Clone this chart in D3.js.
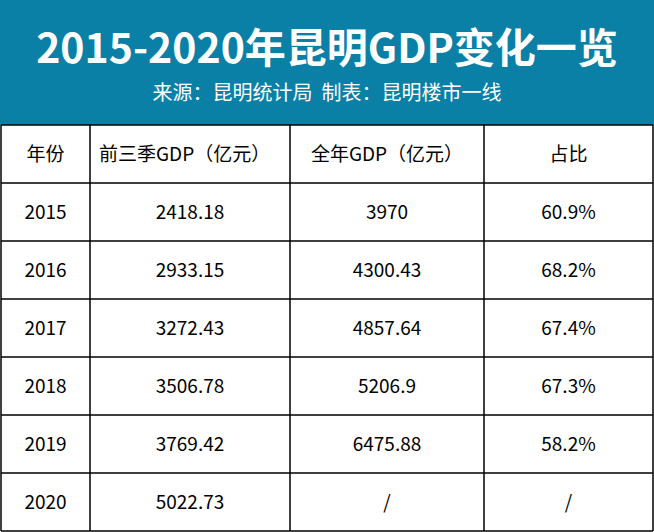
<!DOCTYPE html>
<html><head><meta charset="utf-8">
<script src="https://cdn.jsdelivr.net/npm/d3@7"></script>
<style>html,body{margin:0;padding:0;background:#fff}</style>
</head><body>
<script>
const title = "2015-2020年昆明GDP变化一览";
const subtitle = "来源：昆明统计局  制表：昆明楼市一线";
const headers = ["年份", "前三季GDP（亿元）", "全年GDP（亿元）", "占比"];
const years = ["2015","2016","2017","2018","2019","2020"];
const q3Gdp = ["2418.18","2933.15","3272.43","3506.78","3769.42","5022.73"];
const fullGdp = ["3970","4300.43","4857.64","5206.9","6475.88","/"];
const share = ["60.9%","68.2%","67.4%","67.3%","58.2%","/"];

(function(){
const W=654,H=532, headTop=125;
const colEdges=[1,90,290,484,653];
const svg=d3.select("body").append("svg").attr("width",W).attr("height",H);
const font="'Noto Sans CJK SC','Noto Sans',sans-serif";
svg.append("rect").attr("x",0).attr("y",0).attr("width",W).attr("height",headTop).attr("fill","#0b80a6");
svg.append("text").attr("x",W/2).attr("y",63).attr("text-anchor","middle").attr("fill","#fff")
  .attr("font-family",font).attr("font-weight","bold").attr("font-size",41).text(title);
svg.append("text").attr("x",W/2).attr("y",100).attr("text-anchor","middle").attr("fill","#fff")
  .attr("font-family",font).attr("font-size",20).attr("xml:space","preserve").text(subtitle);

const rows=[headers].concat(years.map((y,i)=>[y,q3Gdp[i],fullGdp[i],share[i]]));
const y=d3.scaleBand().domain(d3.range(rows.length)).range([headTop,H-1]);
const g=svg.append("g");
rows.forEach((r,ri)=>{
  r.forEach((t,ci)=>{
    const x0=colEdges[ci],x1=colEdges[ci+1];
    let anchor="middle", tx=(x0+x1)/2;
    if(ri===0 && ci===1){anchor="start";tx=x0+9;}
    g.append("text").attr("x",tx).attr("y",y(ri)+y.bandwidth()/2+7)
     .attr("text-anchor",anchor).attr("font-family",font).attr("font-size",19).attr("fill","#000").text(t);
  });
});
d3.range(rows.length+1).forEach(i=>{
  const yy=i<rows.length?y(i):H-1;
  g.append("line").attr("x1",1).attr("x2",653).attr("y1",yy).attr("y2",yy).attr("stroke","#000").attr("stroke-width",1.5);
});
colEdges.forEach(x=>g.append("line").attr("x1",x).attr("x2",x).attr("y1",headTop).attr("y2",H-1).attr("stroke","#000").attr("stroke-width",1.5));
})();
</script>
</body></html>
